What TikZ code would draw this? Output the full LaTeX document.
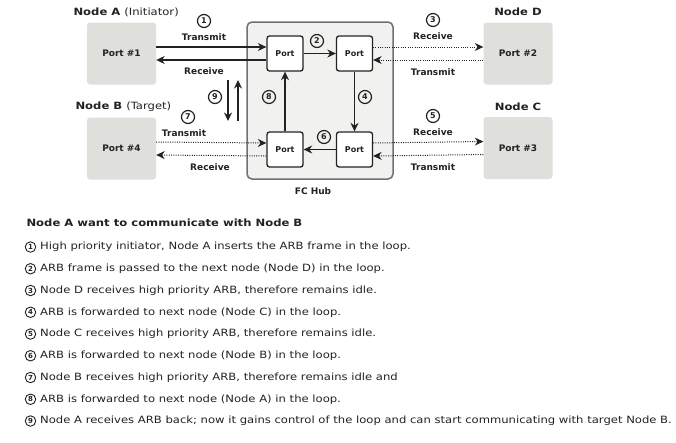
\documentclass[tikz,border=0pt]{standalone}
\usepackage{fontspec}
\setmainfont{DejaVu Sans}
\newfontfamily\wide[FakeStretch=1.16]{DejaVu Sans}
\usetikzlibrary{arrows.meta}

\definecolor{hostgray}{HTML}{DFDFDB}
\definecolor{hubfill}{HTML}{F1F1F0}
\definecolor{hubline}{HTML}{707070}
\definecolor{ink}{HTML}{222222}

\tikzset{
	host/.style = {fill = hostgray, rounded corners = 3pt, minimum width = 69pt, minimum height = 62pt, text = ink, font = \bfseries\fontsize{9}{10}\selectfont},
	port/.style = {draw = ink, line width = 1.3pt, fill = white, rounded corners = 2.5pt, minimum width = 36pt, minimum height = 35pt, text = ink, font = \bfseries\fontsize{8}{10}\selectfont},
	lbl/.style = {text = ink, font = \bfseries\fontsize{9}{10}\selectfont},
	title/.style = {text = ink, font = \wide\fontsize{10}{12}\selectfont},
	num/.style = {circle, draw = ink, line width = 1.2pt, inner sep = 0pt, minimum size = 13pt, text = ink, font = \bfseries\fontsize{8}{9}\selectfont},
	flow/.style = {draw = ink, line width = 1.6pt, -{Stealth[length = 8.5pt, width = 8pt]}},
	dflow/.style = {flow, line width = 1pt, dash pattern = on 1pt off 1.3pt}
}

\begin{document}
\begin{tikzpicture}[x = 1pt, y = -1pt]
		\def\gap{6.5};
		\def\row{21.75};

		\useasboundingbox (0,0) rectangle (676,442);

		\begin{scope}
			\node [draw = hubline, line width = 1.5pt, fill = hubfill, rounded corners = 5pt, minimum width = 146pt, minimum height = 157pt] (hub) at (320,100.5) {};

			\node [port] (ptl) at (285,53.5) {Port};
			\node [port] (ptr) at (354.5,53.5) {Port};
			\node [port] (pbl) at (285,149.5) {Port};
			\node [port] (pbr) at (354.5,149.5) {Port};

			\node [lbl] (hubname) at (313,191) {FC Hub};
		\end{scope}

		\begin{scope}
			\node [host] (pa) at (121.5,53.5) {Port \#1};
			\node [host] (pb) at (121.5,148.5) {Port \#4};
			\node [host] (pd) at (518,53.5) {Port \#2};
			\node [host] (pc) at (518,148) {Port \#3};

			\node [title, anchor = west] (na) at (70,12) {\bfseries Node A \mdseries(Initiator)};
			\node [title, anchor = west] (nb) at (72,107) {\bfseries Node B \mdseries(Target)};
			\node [title] (nd) at (518,12) {\bfseries Node D};
			\node [title] (nc) at (518,107) {\bfseries Node C};
		\end{scope}

		\draw [flow] ([yshift = \gap pt]pa.east) -- ([yshift = \gap pt]ptl.west);
		\draw [flow] ([yshift = -\gap pt]ptl.west) -- ([yshift = -\gap pt]pa.east);
		\draw [flow] (ptl) -- (ptr);
		\draw [flow] (ptr) -- (pbr);
		\draw [flow] (pbr) -- (pbl);
		\draw [flow] (pbl) -- (ptl);
		\draw [dflow] ([yshift = \gap pt]ptr.east) -- ([yshift = \gap pt]pd.west);
		\draw [dflow] ([yshift = -\gap pt]pd.west) -- ([yshift = -\gap pt]ptr.east);
		\draw [dflow] ([yshift = \gap pt]pbr.east) -- ([yshift = \gap pt]pc.west);
		\draw [dflow] ([yshift = -\gap pt]pc.west) -- ([yshift = -\gap pt]pbr.east);
		\draw [dflow] ([yshift = \gap pt]pb.east) -- ([yshift = \gap pt]pbl.west);
		\draw [dflow] ([yshift = -\gap pt]pbl.west) -- ([yshift = -\gap pt]pb.east);

		\coordinate (dtop) at (228,80);
		\coordinate (dbot) at (228,121);
		\coordinate (utop) at (238,80);
		\coordinate (ubot) at (238,121);
		\draw [flow] (dtop) -- (dbot);
		\draw [flow] (ubot) -- (utop);

		\node [lbl] (tx1) at (204,37) {Transmit};
		\node [lbl] (rx1) at (204,71) {Receive};
		\node [lbl] (rx2) at (433,36) {Receive};
		\node [lbl] (tx2) at (433,72) {Transmit};
		\node [lbl] (tx4) at (184,133) {Transmit};
		\node [lbl] (rx4) at (210,167) {Receive};
		\node [lbl] (rx3) at (433,132) {Receive};
		\node [lbl] (tx3) at (433,167) {Transmit};

		\foreach \n/\x/\y in {1/204/21, 2/317/41, 3/433/20, 4/365/97, 5/433/116, 6/324/137, 7/188/117, 8/269/97, 9/215/97}
			\node [num] (c\n) at (\x,\y) {\n};

		\node [title, anchor = west] (head) at (23,223) {\bfseries Node A want to communicate with Node B};

		\foreach \i/\t in {
			1/{High priority initiator, Node A inserts the ARB frame in the loop.},
			2/{ARB frame is passed to the next node (Node D) in the loop.},
			3/{Node D receives high priority ARB, therefore remains idle.},
			4/{ARB is forwarded to next node (Node C) in the loop.},
			5/{Node C receives high priority ARB, therefore remains idle.},
			6/{ARB is forwarded to next node (Node B) in the loop.},
			7/{Node B receives high priority ARB, therefore remains idle and},
			8/{ARB is forwarded to next node (Node A) in the loop.},
			9/{Node A receives ARB back; now it gains control of the loop and can start communicating with target Node B.}}
		{
			\node [num, minimum size = 10.5pt, line width = 0.9pt, font = \bfseries\fontsize{7}{8}\selectfont] (b\i) at (30.5,247+\row*\i-\row) {\i};
			\node [anchor = west, text = ink, font = \wide\fontsize{10}{12}\selectfont, inner sep = 0pt] (s\i) at (40,247+\row*\i-\row) {\t};
		}
	\end{tikzpicture}
\end{document}
